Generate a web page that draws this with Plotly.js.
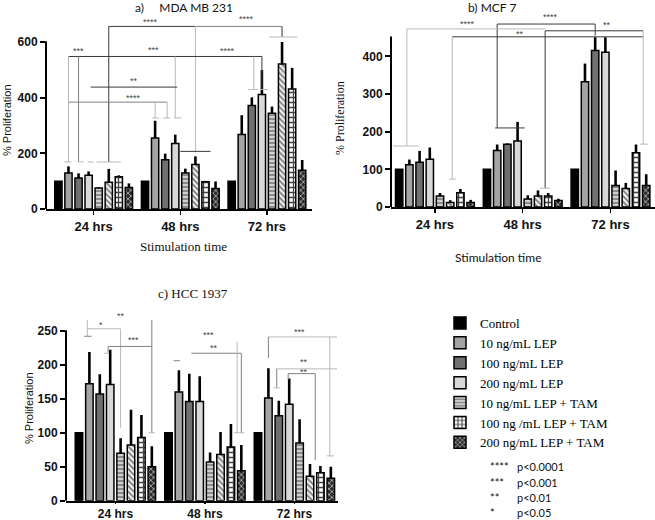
<!DOCTYPE html>
<html><head><meta charset="utf-8">
<script src="https://cdn.plot.ly/plotly-3.0.1.min.js"></script>
<style>html,body{margin:0;padding:0;background:#fff}#chart{width:655px;height:520px}</style>
</head><body><div id="chart"></div>
<script>
// ---------- data ----------
const times = ['24 hrs', '48 hrs', '72 hrs'];
const treatments = ['Control', '10 ng/mL LEP', '100 ng/mL LEP', '200 ng/mL LEP',
  '10 ng/mL LEP + TAM', 'LEP + TAM', '100 ng /mL LEP + TAM', '200 ng/mL LEP + TAM'];
const inLegend = [true, true, true, true, true, false, true, true];

// a) MDA MB 231  (% proliferation, mean and upper error)
const mda24 = [100, 129, 111, 121, 75, 96, 116, 77];
const mda24Err = [0, 24, 17, 14, 3, 48, 5, 15];
const mda48 = [100, 255, 177, 235, 129, 160, 98, 74];
const mda48Err = [0, 62, 22, 32, 16, 29, 3, 25];
const mda72 = [100, 268, 372, 411, 344, 521, 431, 139];
const mda72Err = [0, 69, 29, 88, 24, 79, 76, 37];

// b) MCF 7
const mcf24 = [100, 112, 119, 127, 29, 12, 38, 12];
const mcf24Err = [0, 14, 30, 31, 8, 6, 10, 7];
const mcf48 = [100, 150, 167, 175, 21, 29, 29, 17];
const mcf48Err = [0, 16, 2, 51, 10, 15, 8, 5];
const mcf72 = [100, 333, 416, 411, 57, 49, 144, 57];
const mcf72Err = [0, 48, 35, 40, 40, 15, 22, 30];

// c) HCC 1937
const hcc24 = [100, 172, 157, 171, 70, 82, 93, 50];
const hcc24Err = [0, 47, 29, 51, 22, 52, 33, 30];
const hcc48 = [100, 160, 146, 146, 57, 68, 79, 44];
const hcc48Err = [0, 32, 41, 37, 14, 33, 34, 38];
const hcc72 = [100, 151, 125, 142, 85, 36, 41, 33];
const hcc72Err = [0, 44, 22, 38, 35, 18, 10, 17];

const yTicksA = [0, 200, 400, 600];
const yTicksB = [0, 100, 200, 300, 400];
const yTicksC = [0, 50, 100, 150, 200, 250];

const pLegend = [['****', 'p<0.0001'], ['***', 'p<0.001'], ['**', 'p<0.01'], ['*', 'p<0.05']];

// ---------- styles ----------
const W = 655, H = 520;
const BARGAP = 0.07, NB = 8, SLOT = (1 - BARGAP) / NB;
const fills = [
  {color: '#000000'},
  {color: '#a4a4a4'},
  {color: '#707070'},
  {color: '#d8d8d8'},
  {color: '#8c8c8c', pattern: {shape: '-', bgcolor: '#8c8c8c', fgcolor: '#eeeeee', size: 4, solidity: 0.35, fillmode: 'replace'}},
  {color: '#eeeeee', pattern: {shape: '\\', bgcolor: '#f2f2f2', fgcolor: '#7a7a7a', size: 4, solidity: 0.45, fillmode: 'replace'}},
  {color: '#ffffff', pattern: {shape: '+', bgcolor: '#ffffff', fgcolor: '#444444', size: 5, solidity: 0.45, fillmode: 'replace'}},
  {color: '#333333', pattern: {shape: 'x', bgcolor: '#2a2a2a', fgcolor: '#dddddd', size: 4, solidity: 0.3, fillmode: 'replace'}}
];

const panels = [
  {xa: 'x', ya: 'y', means: [mda24, mda48, mda72], errs: [mda24Err, mda48Err, mda72Err], legend: true},
  {xa: 'x2', ya: 'y2', means: [mcf24, mcf48, mcf72], errs: [mcf24Err, mcf48Err, mcf72Err], legend: false},
  {xa: 'x3', ya: 'y3', means: [hcc24, hcc48, hcc72], errs: [hcc24Err, hcc48Err, hcc72Err], legend: false}
];

const traces = [];
panels.forEach(p => {
  treatments.forEach((name, t) => {
    const marker = Object.assign({line: {color: '#000', width: 1.5}}, fills[t]);
    traces.push({
      type: 'bar', name: name, x: times,
      y: p.means.map(m => m[t]),
      xaxis: p.xa, yaxis: p.ya,
      marker: marker,
      legendgroup: name,
      showlegend: p.legend && inLegend[t],
      error_y: {type: 'data', symmetric: false, array: p.errs.map(e => e[t]),
                arrayminus: [0, 0, 0], thickness: 2.6, width: 0, color: '#000'},
      hoverinfo: 'skip'
    });
  });
});

// ---------- helpers ----------
const px = v => v / W;
const py = v => 1 - v / H;
const bx = (g, i) => g - (1 - BARGAP) / 2 + SLOT * (i + 0.5);
const DARK = '#3a3a3a', MID = '#808080', LIGHT = '#b8b8b8';
const shapes = [];
const annotations = [];
function Hl(ax, g0, i0, g1, i1, y, c) {
  shapes.push({type: 'line', xref: 'x' + ax, yref: 'y' + ax, x0: bx(g0, i0), x1: bx(g1, i1), y0: y, y1: y, line: {color: c, width: 1}});
}
function Vl(ax, g, i, y0, y1, c) {
  shapes.push({type: 'line', xref: 'x' + ax, yref: 'y' + ax, x0: bx(g, i), x1: bx(g, i), y0: y0, y1: y1, line: {color: c, width: 1}});
}
function star(ax, g, i, y, txt) {
  annotations.push({xref: 'x' + ax, yref: 'y' + ax, x: bx(g, i), y: y, text: txt, showarrow: false,
    font: {family: 'Liberation Sans', size: 9, color: '#444'}, xanchor: 'center', yanchor: 'middle'});
}
function label(x, y, txt, font, extra) {
  annotations.push(Object.assign({xref: 'paper', yref: 'paper', x: px(x), y: py(y), text: txt, showarrow: false,
    font: font, xanchor: 'center', yanchor: 'middle'}, extra || {}));
}

// ---------- significance brackets: panel a ----------
Hl('', 0, 5, 1, 5, 656, DARK); Hl('', 1, 5, 2, 5, 656, MID);
Vl('', 0, 5, 656, 169, DARK); Vl('', 1, 5, 656, 207, LIGHT);
Hl('', 1, 3.5, 1, 6.5, 207, DARK);
Vl('', 2, 5, 656, 618, DARK); Hl('', 2, 3.7, 2, 6.5, 618, LIGHT);
Hl('', 0, 1, 2, 3, 548, DARK);
Vl('', 0, 1, 548, 169, LIGHT); Vl('', 0, 2, 548, 169, MID);
Vl('', 1, 3, 548, 327, LIGHT);
Vl('', 2, 2.2, 548, 429, LIGHT); Vl('', 2, 3, 548, 429, DARK);
Hl('', 2, 1.6, 2, 2.6, 429, LIGHT); Hl('', 2, 2.8, 2, 3.6, 429, LIGHT);
Hl('', 0, 3.2, 1, 3.2, 438, DARK);
Hl('', 0, 1, 1, 2.2, 384, MID);
Vl('', 1, 1, 384, 327, LIGHT); Vl('', 1, 2.2, 384, 327, LIGHT);
Hl('', 1, 0.7, 1, 1.4, 327, LIGHT); Hl('', 1, 1.8, 1, 2.5, 327, LIGHT); Hl('', 1, 2.9, 1, 3.6, 327, LIGHT);
Hl('', 0, 0.6, 0, 1.3, 169, LIGHT); Hl('', 0, 1.9, 0, 2.5, 169, LIGHT);
Hl('', 0, 2.9, 0, 3.5, 169, LIGHT); Hl('', 0, 3.8, 0, 6.2, 169, LIGHT);
star('', 1, 0.5, 671, '****'); star('', 2, 1.5, 684, '****');
star('', 0, 2, 566, '***'); star('', 1, 0.8, 572, '***'); star('', 2, -0.4, 566, '****');
star('', 0, 7.5, 459, '**'); star('', 0, 7.5, 399, '****');

// ---------- panel b ----------
Hl('2', 1, 1, 2, 2, 486, DARK); Vl('2', 1, 1, 486, 210, DARK); Hl('2', 1, 0.8, 1, 3.7, 210, DARK);
Vl('2', 2, 2, 486, 455, DARK);
Hl('2', 1, 5.7, 2, 6.7, 468, DARK); Vl('2', 1, 5.7, 468, 50, DARK); Hl('2', 1, 5.2, 1, 6.2, 50, LIGHT);
Hl('2', 0, 5.2, 2, 6.7, 452, DARK); Vl('2', 0, 5.2, 452, 74, LIGHT); Hl('2', 0, 4.9, 0, 5.6, 74, LIGHT);
Vl('2', 2, 6.7, 468, 167, LIGHT); Hl('2', 2, 6.4, 2, 7.2, 167, LIGHT);
Vl('2', 0, 0.75, 473, 162, LIGHT); Hl('2', 0, -0.6, 0, 1.9, 162, LIGHT);
Hl('2', 0, 0.75, 1, 5.7, 473, LIGHT);
star('2', 0, 6.7, 486, '****'); star('2', 1, 6.2, 504, '****');
star('2', 2, 3.2, 483, '**'); star('2', 1, 3.2, 460, '**');

// ---------- panel c ----------
Vl('3', 0, 0.8, 266, 242, LIGHT); Hl('3', 0, 0.5, 0, 1.2, 242, MID);
Hl('3', 0, 0.8, 0, 4, 253, LIGHT); Vl('3', 0, 4, 253, 107, LIGHT);
Hl('3', 0, 2.8, 0, 7, 227, MID); Vl('3', 0, 2.8, 227, 218, MID); Hl('3', 0, 2.4, 0, 2.9, 217, LIGHT);
Vl('3', 0, 7, 266, 100, MID); Hl('3', 0, 6.7, 0, 7.3, 100, LIGHT);
Hl('3', 1, 2.2, 1, 7, 217, MID); Vl('3', 1, 7, 217, 100, MID);
Vl('3', 1, 6.6, 234, 100, LIGHT); Hl('3', 1, 6.3, 1, 7.3, 100, LIGHT);
Hl('3', 1, 0.5, 1, 1.1, 206, MID);
Hl('3', 2, 1, 2, 7.6, 241, LIGHT); Vl('3', 2, 1, 241, 210, MID);
Vl('3', 2, 6.9, 241, 65, LIGHT); Hl('3', 2, 6.6, 2, 7.3, 66, LIGHT);
Hl('3', 2, 1.8, 2, 7.6, 194, LIGHT); Vl('3', 2, 1.8, 194, 166, MID); Hl('3', 2, 1.5, 2, 2.1, 166, LIGHT);
Hl('3', 2, 2.9, 2, 5.5, 187, MID); Vl('3', 2, 2.9, 187, 178, MID); Vl('3', 2, 5.5, 187, 60, MID);
star('3', 0, 2.1, 258, '*'); star('3', 0, 4, 272, '**'); star('3', 0, 5.2, 237, '***');
star('3', 1, 3.8, 244, '***'); star('3', 1, 4.4, 224, '**');
star('3', 2, 4, 248, '***'); star('3', 2, 4.4, 204, '**'); star('3', 2, 4.4, 190, '**');

// ---------- y axis lines (stop at top tick) ----------
const domA = [46, 312], domB = [391, 655], domC = [66, 338];
shapes.push({type: 'line', xref: 'paper', yref: 'y', x0: px(domA[0]), x1: px(domA[0]), y0: 0, y1: 603, line: {color: '#000', width: 2}});
shapes.push({type: 'line', xref: 'paper', yref: 'y2', x0: px(domB[0]), x1: px(domB[0]), y0: 0, y1: 453, line: {color: '#000', width: 2}});
shapes.push({type: 'line', xref: 'paper', yref: 'y3', x0: px(domC[0]), x1: px(domC[0]), y0: 0, y1: 251, line: {color: '#000', width: 2}});

// ---------- text labels ----------
const sans = {family: 'Lato', size: 12, color: '#111'};
const serif = {family: 'Liberation Serif', size: 13, color: '#111'};
label(184, 8, 'a)\u00a0\u00a0\u00a0\u00a0\u00a0MDA MB 231', sans);
label(492, 8, 'b) MCF 7', sans);
label(193, 293, 'c) HCC 1937', serif);
label(183, 246, 'Stimulation time', serif);
label(498, 257, 'Stimulation time', sans);
label(7, 120, '% Proliferation', {family: 'Liberation Sans', size: 11, color: '#111'}, {textangle: -90});
label(340, 118, '% Proliferation', {family: 'Liberation Serif', size: 12, color: '#111'}, {textangle: -90});
label(29, 408, '% Proliferation', {family: 'Liberation Sans', size: 11, color: '#111'}, {textangle: -90});
const pRows = [466, 482, 497, 512];
pLegend.forEach((r, k) => {
  label(488, pRows[k], r[0], {family: 'Lato', size: 11, color: '#111'}, {xanchor: 'left'});
  label(515, pRows[k], r[1], {family: 'Lato', size: 11, color: '#111'}, {xanchor: 'left'});
});

// ---------- axes ----------
const xBase = {type: 'category', showline: true, linewidth: 2, linecolor: '#000', ticks: 'outside', ticklen: 4,
  tickwidth: 1.5, tickcolor: '#000', showgrid: false, zeroline: false,
  tickfont: {family: 'Liberation Sans', size: 13, color: '#111', weight: 'bold'}};
const yBase = {showline: false, ticks: 'outside', ticklen: 5, tickwidth: 2, tickcolor: '#000', showgrid: false,
  zeroline: false, tickfont: {family: 'Liberation Sans', size: 12, color: '#111', weight: 'bold'}};

const layout = {
  width: W, height: H, margin: {l: 0, r: 0, t: 0, b: 0},
  paper_bgcolor: '#fff', plot_bgcolor: 'rgba(0,0,0,0)',
  barmode: 'group', bargap: BARGAP, bargroupgap: 0.28,
  showlegend: true,
  legend: {x: px(440), y: py(308), xanchor: 'left', yanchor: 'top', bgcolor: 'rgba(0,0,0,0)',
    font: {family: 'Liberation Serif', size: 13, color: '#000'}, tracegroupgap: 0, traceorder: 'normal'},
  xaxis: Object.assign({}, xBase, {domain: [px(domA[0]), px(domA[1])], range: [-0.55, 2.52], anchor: 'y'}),
  yaxis: Object.assign({}, yBase, {domain: [py(209), py(15)], range: [0, 697], tickvals: yTicksA, anchor: 'x'}),
  xaxis2: Object.assign({}, xBase, {domain: [px(domB[0]), px(domB[1])], range: [-0.5, 2.507], anchor: 'y2'}),
  yaxis2: Object.assign({}, yBase, {domain: [py(207), py(15)], range: [0, 510], tickvals: yTicksB, anchor: 'x2'}),
  xaxis3: Object.assign({}, xBase, {domain: [px(domC[0]), px(domC[1])], range: [-0.552, 2.487], anchor: 'y3',
    ticklen: 1, tickfont: {family: 'Liberation Sans', size: 12, color: '#111', weight: 'bold'}}),
  yaxis3: Object.assign({}, yBase, {domain: [py(500.7), py(305)], range: [0, 288], tickvals: yTicksC, anchor: 'x3'}),
  shapes: shapes,
  annotations: annotations
};

Plotly.newPlot('chart', traces, layout, {displayModeBar: false, staticPlot: true});
</script>
</body></html>
